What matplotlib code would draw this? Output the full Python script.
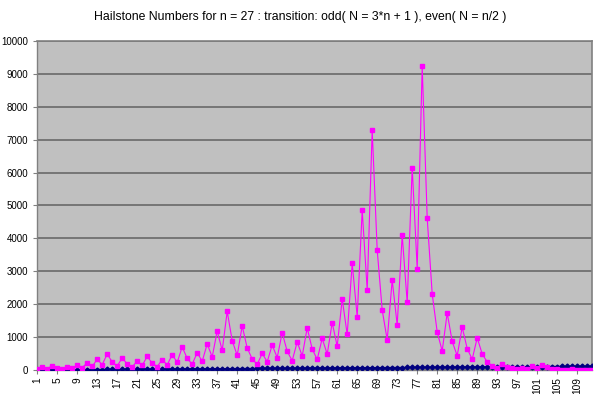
import matplotlib
matplotlib.use("Agg")
import matplotlib.pyplot as plt

hailstone = [27, 82, 41, 124, 62, 31, 94, 47, 142, 71, 214, 107, 322, 161, 484, 242, 121, 364, 182, 91,
             274, 137, 412, 206, 103, 310, 155, 466, 233, 700, 350, 175, 526, 263, 790, 395, 1186, 593,
             1780, 890, 445, 1336, 668, 334, 167, 502, 251, 754, 377, 1132, 566, 283, 850, 425, 1276,
             638, 319, 958, 479, 1438, 719, 2158, 1079, 3238, 1619, 4858, 2429, 7288, 3644, 1822, 911,
             2734, 1367, 4102, 2051, 6154, 3077, 9232, 4616, 2308, 1154, 577, 1732, 866, 433, 1300, 650,
             325, 976, 488, 244, 122, 61, 184, 92, 46, 23, 70, 35, 106, 53, 160, 80, 40, 20, 10, 5, 16,
             8, 4, 2, 1]
steps = list(range(1, len(hailstone) + 1))
title = "Hailstone Numbers for n = 27 : transition: odd( N = 3*n + 1 ), even( N = n/2 )"

fig = plt.figure(figsize=(6.0, 3.94), dpi=100)
ax = fig.add_axes([0.062, 0.061, 0.925, 0.835])
ax.set_facecolor("#C0C0C0")

ax.plot(steps, steps, color="#000080", lw=1, marker="D", ms=2.5, zorder=3)
ax.plot(steps, hailstone, color="#FF00FF", lw=0.8, marker="s", ms=3.2, zorder=4)

ax.set_xlim(1, len(hailstone))
ax.set_ylim(0, 10000)
ax.set_yticks(range(0, 10001, 1000))
ax.set_xticks(steps[::4])
ax.set_xticklabels([str(s) for s in steps[::4]], rotation=90, fontsize=7.3, family="Liberation Sans")
ax.tick_params(axis="y", labelsize=7, length=3, width=0.8, color="#808080")
ax.tick_params(axis="x", length=3, width=0.8, color="#808080", pad=2)
for lbl in ax.get_yticklabels():
    lbl.set_family("Liberation Sans")
ax.yaxis.grid(True, color="#707070", lw=1.3)
ax.set_axisbelow(True)
for side in ["top", "right"]:
    ax.spines[side].set_color("#808080")
    ax.spines[side].set_linewidth(1.2)
for side in ["left", "bottom"]:
    ax.spines[side].set_color("#808080")
    ax.spines[side].set_linewidth(1)

fig.text(0.5, 0.958, title, ha="center", va="center", fontsize=8.8, family="Liberation Sans")
fig.savefig("out.png", dpi=100)
